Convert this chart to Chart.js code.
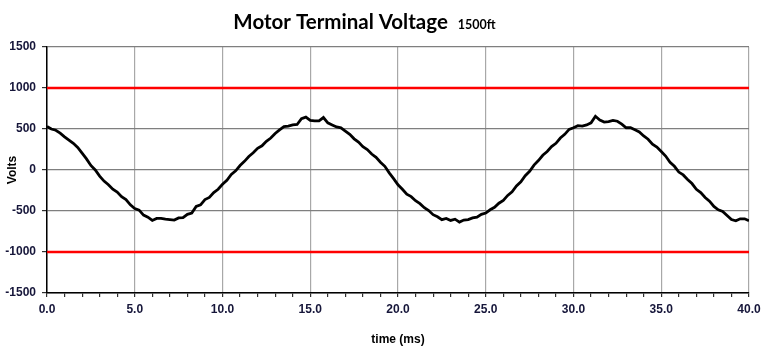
<!DOCTYPE html>
<html>
<head>
<meta charset="utf-8">
<script src="https://cdn.jsdelivr.net/npm/chart.js@4.4.1/dist/chart.umd.min.js"></script>
<style>
  html, body { margin: 0; padding: 0; background: #ffffff; }
  #wrap { width: 768px; height: 359px; position: relative; }
</style>
</head>
<body>
<div id="wrap"><canvas id="c"></canvas></div>
<script>
const chartTitle = "Motor Terminal Voltage";
const chartSubtitle = "1500ft";
const xAxisTitle = "time (ms)";
const yAxisTitle = "Volts";

const timeMs = [
  0, 0.25, 0.5, 0.75, 1, 1.25, 1.5, 1.75, 2, 2.25, 2.5, 2.75, 3, 3.25, 3.5, 3.75,
  4, 4.25, 4.5, 4.75, 5, 5.25, 5.5, 5.75, 6, 6.25, 6.5, 6.75, 7, 7.25, 7.5, 7.75,
  8, 8.25, 8.5, 8.75, 9, 9.25, 9.5, 9.75, 10, 10.25, 10.5, 10.75, 11, 11.25, 11.5, 11.75,
  12, 12.25, 12.5, 12.75, 13, 13.25, 13.5, 13.75, 14, 14.25, 14.5, 14.75, 15, 15.25, 15.5, 15.75,
  16, 16.25, 16.5, 16.75, 17, 17.25, 17.5, 17.75, 18, 18.25, 18.5, 18.75, 19, 19.25, 19.5, 19.75,
  20, 20.25, 20.5, 20.75, 21, 21.25, 21.5, 21.75, 22, 22.25, 22.5, 22.75, 23, 23.25, 23.5, 23.75,
  24, 24.25, 24.5, 24.75, 25, 25.25, 25.5, 25.75, 26, 26.25, 26.5, 26.75, 27, 27.25, 27.5, 27.75,
  28, 28.25, 28.5, 28.75, 29, 29.25, 29.5, 29.75, 30, 30.25, 30.5, 30.75, 31, 31.25, 31.5, 31.75,
  32, 32.25, 32.5, 32.75, 33, 33.25, 33.5, 33.75, 34, 34.25, 34.5, 34.75, 35, 35.25, 35.5, 35.75,
  36, 36.25, 36.5, 36.75, 37, 37.25, 37.5, 37.75, 38, 38.25, 38.5, 38.75, 39, 39.25, 39.5, 39.75,
  40
];

const voltage = [
  530, 500, 485, 450, 405, 365, 325, 275, 205, 135, 55, 0, -75, -135, -180, -235,
  -270, -325, -360, -425, -470, -490, -550, -575, -615, -590, -590, -600, -605, -610, -585, -580,
  -540, -525, -445, -425, -360, -335, -275, -235, -175, -125, -55, -10, 55, 105, 165, 210,
  265, 295, 350, 390, 445, 490, 530, 535, 550, 555, 625, 645, 605, 600, 600, 640,
  575, 550, 525, 515, 475, 435, 380, 340, 285, 250, 195, 155, 95, 45, -35, -105,
  -180, -235, -295, -325, -375, -410, -460, -495, -545, -570, -605, -590, -615, -600, -635, -610,
  -605, -585, -575, -540, -525, -485, -455, -405, -370, -310, -265, -195, -145, -70, -15, 60,
  115, 180, 225, 285, 325, 390, 435, 495, 515, 540, 535, 550, 575, 655, 610, 585,
  590, 605, 595, 560, 515, 515, 490, 465, 415, 375, 315, 280, 225, 170, 95, 45,
  -25, -60, -115, -165, -235, -275, -335, -380, -445, -485, -505, -555, -605, -620, -595, -595,
  -620
];

const limitValues = [1000, -1000];
const xRange = [0, 40];
const yRange = [-1500, 1500];
const yStep = 500;
const xMinorStep = 1;
const xMajorStep = 5;

const voltagePoints = timeMs.map((t, i) => ({ x: t, y: voltage[i] }));
const limitDatasets = limitValues.map(v => ({
  data: [{ x: xRange[0], y: v }, { x: xRange[1], y: v }],
  borderColor: '#ff0000',
  borderWidth: 2.5,
  pointRadius: 0,
  tension: 0,
  order: 2
}));

const tickFont = { family: "Arial, 'Liberation Sans', sans-serif", size: 12, weight: 'bold' };
const tickColor = '#16163a';

const titlePlugin = {
  id: 'twoPartTitle',
  afterDraw(chart) {
    const ctx = chart.ctx;
    ctx.save();
    ctx.fillStyle = '#000000';
    ctx.textBaseline = 'alphabetic';
    ctx.font = "bold 20.5px Lato, 'Open Sans', sans-serif";
    const w1 = ctx.measureText(chartTitle).width;
    ctx.font = "bold 12.5px Lato, 'Open Sans', sans-serif";
    const w2 = ctx.measureText(chartSubtitle).width;
    const gap = 10;
    const cx = 364.5;
    const start = cx - (w1 + gap + w2) / 2;
    ctx.font = "bold 20.5px Lato, 'Open Sans', sans-serif";
    ctx.fillText(chartTitle, start, 28.5);
    ctx.font = "bold 12.5px Lato, 'Open Sans', sans-serif";
    ctx.fillText(chartSubtitle, start + w1 + gap, 28.5);
    ctx.restore();
  }
};

new Chart(document.getElementById('c'), {
  type: 'line',
  data: {
    datasets: [
      {
        data: voltagePoints,
        borderColor: '#000000',
        borderWidth: 2.8,
        pointRadius: 0,
        tension: 0,
        order: 1
      },
      ...limitDatasets
    ]
  },
  options: {
    responsive: true,
    maintainAspectRatio: false,
    animation: false,
    devicePixelRatio: 1,
    layout: { padding: { top: 47, right: 19, left: 0, bottom: 0 } },
    plugins: {
      legend: { display: false },
      tooltip: { enabled: false },
      title: { display: false }
    },
    scales: {
      x: {
        type: 'linear',
        min: xRange[0],
        max: xRange[1],
        afterFit(scale) { scale.height = 66; },
        ticks: {
          stepSize: xMinorStep,
          autoSkip: false,
          maxRotation: 0,
          padding: 5,
          color: tickColor,
          font: tickFont,
          callback: v => (v % xMajorStep === 0 ? Number(v).toFixed(1) : '')
        },
        grid: {
          color: ctx => (ctx.tick && ctx.tick.value % xMajorStep === 0 ? '#a8a8a8' : 'rgba(0,0,0,0)'),
          tickColor: '#303030',
          tickLength: 4,
          lineWidth: 1.2
        },
        border: { color: '#000000', width: 1.5 },
        title: {
          display: true,
          text: xAxisTitle,
          color: '#000000',
          font: tickFont,
          padding: { top: 0, bottom: 12 }
        }
      },
      y: {
        type: 'linear',
        min: yRange[0],
        max: yRange[1],
        afterFit(scale) { scale.width = 47; },
        ticks: {
          stepSize: yStep,
          padding: 6,
          color: tickColor,
          font: tickFont,
          callback: v => String(v)
        },
        grid: {
          color: '#7f7f7f',
          tickColor: '#303030',
          tickLength: 5,
          lineWidth: 1.2
        },
        border: { color: '#000000', width: 1.5 },
        title: {
          display: true,
          text: yAxisTitle,
          color: '#000000',
          font: tickFont,
          padding: { top: 5, bottom: 0 }
        }
      }
    }
  },
  plugins: [titlePlugin]
});
</script>
</body>
</html>
